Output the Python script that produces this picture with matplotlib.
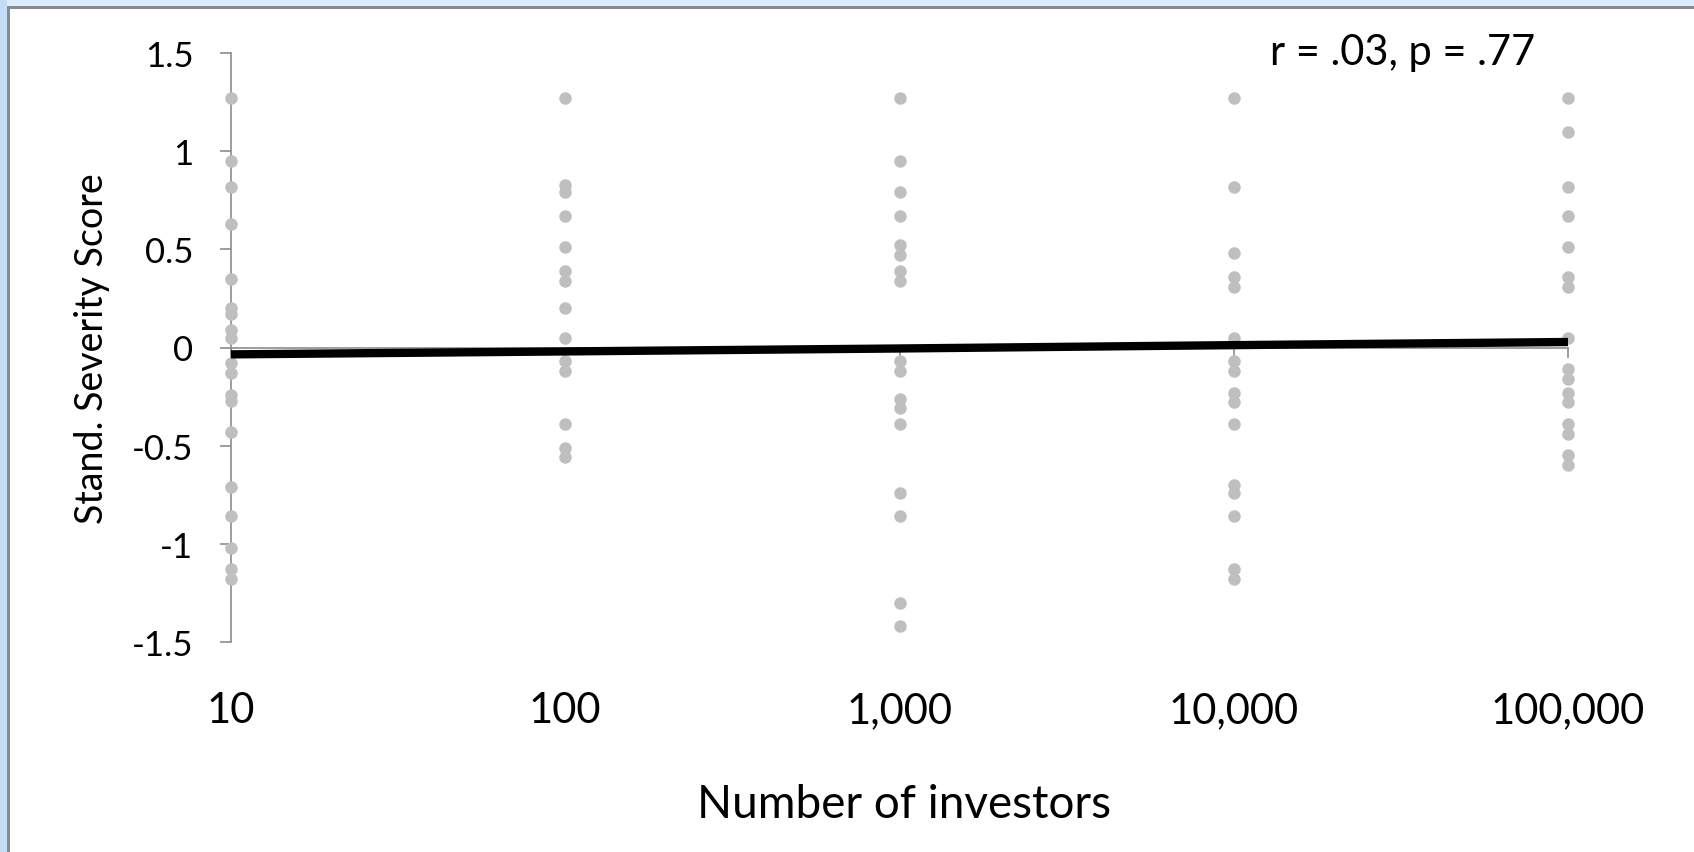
import numpy as np
import matplotlib
matplotlib.use('Agg')
import matplotlib.pyplot as plt
import matplotlib.ticker as ticker
from matplotlib.patches import Rectangle
from matplotlib.transforms import blended_transform_factory

plt.rcParams['font.family'] = ['Lato', 'DejaVu Sans']

# number of investors per condition (log axis)
investors = [10, 100, 1000, 10000, 100000]
investor_labels = ['10', '100', '1,000', '10,000', '100,000']

# standardised severity scores per condition
scores_10 = [1.27, 0.95, 0.82, 0.63, 0.35, 0.20, 0.17, 0.09, 0.05, -0.08, -0.13,
             -0.24, -0.27, -0.43, -0.71, -0.86, -1.02, -1.13, -1.18]
scores_100 = [1.27, 0.83, 0.79, 0.67, 0.51, 0.39, 0.34, 0.20, 0.05, -0.07, -0.12,
              -0.39, -0.51, -0.56]
scores_1000 = [1.27, 0.95, 0.79, 0.67, 0.52, 0.47, 0.39, 0.34, -0.07, -0.12,
               -0.26, -0.31, -0.39, -0.74, -0.86, -1.30, -1.42]
scores_10000 = [1.27, 0.82, 0.48, 0.36, 0.31, 0.05, -0.07, -0.12, -0.23, -0.28,
                -0.39, -0.70, -0.74, -0.86, -1.13, -1.18]
scores_100000 = [1.27, 1.10, 0.82, 0.67, 0.51, 0.36, 0.31, 0.05, -0.11, -0.16,
                 -0.23, -0.28, -0.39, -0.44, -0.55, -0.60]
all_scores = [scores_10, scores_100, scores_1000, scores_10000, scores_100000]

# linear trend through the group scores
trend_y = [-0.035, -0.02, -0.005, 0.012, 0.028]

y_ticks = [1.5, 1, 0.5, 0, -0.5, -1, -1.5]
y_tick_labels = ['1.5', '1', '0.5', '0', '-0.5', '-1', '-1.5']

W, H = 1694, 853
fig = plt.figure(figsize=(W / 100, H / 100), dpi=100)
fig.patch.set_facecolor('white')

# window frame along the top and left edges
fig.patches.append(Rectangle((0, 1 - 7 / H), 1, 7 / H, transform=fig.transFigure,
                             facecolor='#dcecfa', edgecolor='none', zorder=0))
fig.patches.append(Rectangle((0, 0), 7 / W, 1, transform=fig.transFigure,
                             facecolor='#c4ddf5', edgecolor='none', zorder=0))
fig.patches.append(Rectangle((7 / W, 0), 2.5 / W, 1 - 7 / H, transform=fig.transFigure,
                             facecolor='#8a8a8a', edgecolor='none', zorder=0))
fig.patches.append(Rectangle((7 / W, 1 - 9.5 / H), 1 - 7 / W, 2.5 / H, transform=fig.transFigure,
                             facecolor='#8a8a8a', edgecolor='none', zorder=0))

left, right, top, bottom = 231, 1568, 54, 643
ax = fig.add_axes([left / W, 1 - bottom / H, (right - left) / W, (bottom - top) / H])
ax.set_facecolor('none')

axis_grey = '#8c8c8c'
for x, ys in zip(investors, all_scores):
    ax.plot([x] * len(ys), ys, 'o', color='#bfbfbf', markersize=9,
            markeredgewidth=0, zorder=3, clip_on=False)

ax.plot(investors, trend_y, color='black', linewidth=6, solid_capstyle='butt', zorder=4)

ax.set_xscale('log')
ax.set_xlim(investors[0], investors[-1])
ax.set_ylim(-1.5, 1.5)

ax.spines['top'].set_visible(False)
ax.spines['right'].set_visible(False)
ax.spines['left'].set_color(axis_grey)
ax.spines['left'].set_linewidth(1.2)
ax.spines['bottom'].set_position(('data', 0))
ax.spines['bottom'].set_color(axis_grey)
ax.spines['bottom'].set_linewidth(1.2)

ax.set_yticks(y_ticks)
ax.set_yticklabels(y_tick_labels, fontsize=25)
ax.tick_params(axis='y', direction='out', length=8, width=1.2, color=axis_grey,
               pad=19, labelcolor='black')

ax.xaxis.set_major_locator(ticker.FixedLocator(investors))
ax.xaxis.set_minor_locator(ticker.NullLocator())
ax.tick_params(axis='x', direction='out', length=7, width=1.2, color=axis_grey,
               labelbottom=False)

# category labels sit below the plot, not on the zero line
trans = blended_transform_factory(ax.transData, ax.transAxes)
for x, lab in zip(investors, investor_labels):
    ax.text(x, (bottom - 723) / (bottom - top), lab, transform=trans,
            ha='center', va='baseline', fontsize=30)

ax.set_xlabel('Number of investors', fontsize=33, va='baseline')
ax.xaxis.set_label_coords(0.503, (bottom - 818) / (bottom - top))
ax.set_ylabel('Stand. Severity Score', fontsize=27, va='center')
ax.yaxis.set_label_coords((92 - left) / (right - left), 0.5)

ax.text((1403 - left) / (right - left), (bottom - 65) / (bottom - top),
        'r = .03, p = .77', transform=ax.transAxes, ha='center', va='baseline',
        fontsize=30)

fig.savefig('out.png', dpi=100)
